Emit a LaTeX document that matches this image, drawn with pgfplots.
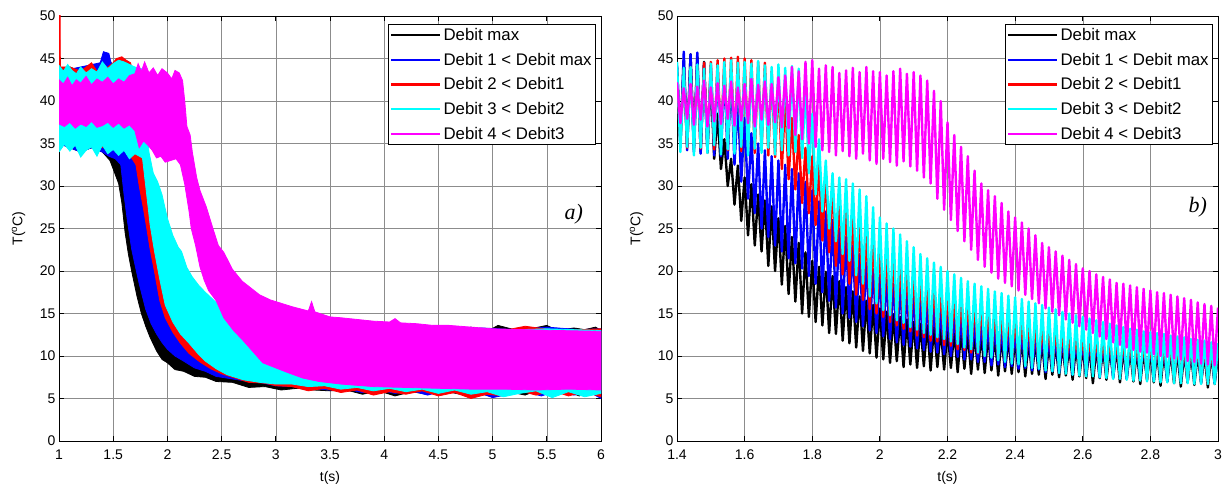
\documentclass[border=0pt]{standalone}
\usepackage{fontspec}
\setmainfont{Liberation Sans}
\newfontfamily\serifit{Liberation Serif}
\usepackage{pgfplots}
\pgfplotsset{compat=1.18}
\definecolor{mcyan}{rgb}{0,1,1}
\definecolor{mmag}{rgb}{1,0,1}
\definecolor{mblue}{rgb}{0,0,1}
\definecolor{mred}{rgb}{1,0,0}
\pgfplotsset{
  myaxis/.style={
    scale only axis, height=425bp,
    ymin=0, ymax=50, ytick={0,5,...,50},
    grid=major, major grid style={black!45, line width=0.5bp},
    axis line style={line width=0.8bp},
    tick align=inside, xtick pos=both, ytick pos=both,
    tick style={black, line width=0.8bp}, major tick length=5bp,
    tick label style={font=\fontsize{14bp}{16bp}\selectfont},
    xticklabel style={yshift=-5bp},
    /pgf/number format/assume math mode=true,
    xlabel={t(s)}, ylabel={T(\textsuperscript{o}C)},
    every axis y label/.style={at={(axis description cs:-0.0747,0.5)}, rotate=90, anchor=center, font=\fontsize{14bp}{16bp}\selectfont},
    every axis x label/.style={at={(axis description cs:0.5,-0.087)}, anchor=center, font=\fontsize{14bp}{16bp}\selectfont},
    legend style={at={(rel axis cs:1,1)}, anchor=north east, xshift=-5bp, yshift=-8bp,
      draw=black, line width=0.8bp, fill=white, font=\fontsize{16.8bp}{18bp}\selectfont,
      inner xsep=2bp, inner ysep=2bp, row sep=7bp, cells={anchor=west}},
    legend image code/.code={\draw[#1, line width=2.4bp, line cap=butt] (0bp,0bp) -- (49bp,0bp);},
  },
  wave/.style={line width=2.4bp, line join=round, forget plot},
  band/.style={fill=#1, draw=#1, line width=0.8bp, forget plot},
}
\begin{document}
\begin{tikzpicture}
\useasboundingbox (0,0) rectangle (1227bp,487bp);
% ---------------- panel a ----------------
\begin{axis}[myaxis, at={(59bp,46bp)}, anchor=south west, width=542bp,
  xmin=1, xmax=6, xtick={1,1.5,...,6}]
\addlegendimage{black}\addlegendentry{Debit max}
\addlegendimage{mblue}\addlegendentry{Debit 1 < Debit max}
\addlegendimage{mred}\addlegendentry{Debit 2 < Debit1}
\addlegendimage{mcyan}\addlegendentry{Debit 3 < Debit2}
\addlegendimage{mmag}\addlegendentry{Debit 4 < Debit3}
% black band
\addplot[band=black] table[row sep=\\]{
1.00 43.5\\ 1.10 44.0\\ 1.20 43.5\\ 1.30 44.0\\ 1.40 44.5\\ 1.45 45.3\\ 1.50 44.0\\ 1.52 38.0\\ 1.55 33.5\\ 1.60 31.0\\ 1.65 28.5\\ 1.70 26.0\\ 1.75 23.5\\ 1.80 21.0\\ 1.90 18.0\\ 2.00 15.5\\ 2.10 14.0\\ 2.20 13.0\\ 2.40 12.0\\ 2.60 11.5\\ 2.80 11.5\\ 3.00 11.8\\ 3.20 12.2\\ 3.50 12.6\\ 3.70 13.2\\ 3.75 12.8\\ 3.85 13.4\\ 3.95 12.9\\ 4.05 13.2\\ 4.20 12.9\\ 4.30 13.5\\ 4.40 12.9\\ 4.55 13.3\\ 4.70 13.0\\ 4.80 13.4\\ 4.95 12.9\\ 5.05 13.6\\ 5.20 13.1\\ 5.35 13.2\\ 5.50 13.6\\ 5.60 13.0\\ 5.75 13.3\\ 5.85 13.1\\ 5.95 13.4\\ 6.00 13.0\\
6.00 5.6\\ 5.90 5.9\\ 5.80 5.3\\ 5.70 5.8\\ 5.55 5.5\\ 5.40 5.9\\ 5.30 5.4\\ 5.15 5.8\\ 5.00 5.2\\ 4.85 5.7\\ 4.70 5.5\\ 4.55 5.9\\ 4.40 5.5\\ 4.25 5.8\\ 4.10 5.3\\ 3.95 5.9\\ 3.80 5.5\\ 3.65 6.0\\ 3.50 5.9\\ 3.35 6.0\\ 3.20 6.2\\ 3.05 6.0\\ 2.90 6.4\\ 2.75 6.3\\ 2.60 6.9\\ 2.45 7.0\\ 2.35 7.5\\ 2.25 7.6\\ 2.15 8.2\\ 2.07 8.4\\ 2.00 9.2\\ 1.95 9.6\\ 1.90 10.6\\ 1.84 12.2\\ 1.80 13.5\\ 1.76 15.0\\ 1.72 17.0\\ 1.67 20.0\\ 1.64 22.0\\ 1.61 24.5\\ 1.58 28.0\\ 1.55 30.3\\ 1.50 32.0\\ 1.47 33.0\\ 1.40 34.0\\ 1.30 34.5\\ 1.20 34.0\\ 1.10 34.5\\ 1.00 35.0\\
};
% blue band
\addplot[band=mblue] table[row sep=\\]{
1.00 43.5\\ 1.20 44.0\\ 1.38 44.5\\ 1.41 45.8\\ 1.46 45.6\\ 1.48 44.5\\ 1.55 43.5\\ 1.58 40.0\\ 1.62 36.0\\ 1.67 33.5\\ 1.72 32.5\\ 1.78 30.5\\ 1.84 27.0\\ 1.90 24.0\\ 1.95 21.5\\ 2.00 19.5\\ 2.10 17.0\\ 2.20 15.0\\ 2.40 12.8\\ 2.60 11.8\\ 2.80 11.2\\ 3.00 11.5\\ 3.50 12.5\\ 3.80 13.0\\ 4.00 12.9\\ 4.30 13.3\\ 4.60 13.0\\ 4.90 13.3\\ 5.20 13.1\\ 5.50 13.4\\ 5.80 13.1\\ 6.00 13.2\\
6.00 5.0\\ 5.90 5.7\\ 5.75 5.4\\ 5.60 5.9\\ 5.45 5.3\\ 5.30 5.8\\ 5.15 5.5\\ 5.00 5.1\\ 4.85 5.8\\ 4.70 5.6\\ 4.55 5.9\\ 4.40 5.4\\ 4.25 5.9\\ 4.10 5.6\\ 3.95 6.0\\ 3.80 5.7\\ 3.65 6.1\\ 3.50 6.0\\ 3.30 6.2\\ 3.15 6.4\\ 3.00 6.5\\ 2.85 6.9\\ 2.70 7.1\\ 2.55 7.4\\ 2.45 7.6\\ 2.35 8.2\\ 2.25 8.6\\ 2.15 9.4\\ 2.07 10.0\\ 2.00 10.8\\ 1.95 11.6\\ 1.90 12.6\\ 1.85 13.8\\ 1.80 15.5\\ 1.74 18.5\\ 1.70 20.8\\ 1.67 22.6\\ 1.63 26.0\\ 1.60 29.0\\ 1.57 32.5\\ 1.52 33.2\\ 1.46 33.5\\ 1.40 34.0\\ 1.30 34.5\\ 1.20 34.0\\ 1.10 34.5\\ 1.00 35.0\\
};
% red band
\addplot[band=mred] table[row sep=\\]{
1.000 44.0\\ 1.003 50.5\\ 1.010 50.5\\ 1.013 44.0\\ 1.10 44.0\\ 1.20 43.5\\ 1.30 44.5\\ 1.35 43.5\\ 1.45 44.0\\ 1.50 44.5\\ 1.53 45.0\\ 1.58 45.2\\ 1.62 44.8\\ 1.66 44.5\\ 1.70 42.5\\ 1.74 38.0\\ 1.78 34.5\\ 1.84 31.5\\ 1.90 28.0\\ 2.00 23.0\\ 2.10 20.0\\ 2.20 17.5\\ 2.30 16.0\\ 2.40 14.5\\ 2.60 12.5\\ 2.80 11.6\\ 3.00 11.8\\ 3.50 12.6\\ 4.00 12.9\\ 4.20 13.3\\ 4.50 13.0\\ 4.80 13.3\\ 5.10 13.0\\ 5.30 13.5\\ 5.60 13.0\\ 6.00 13.2\\
6.00 5.2\\ 5.85 5.8\\ 5.70 5.3\\ 5.55 5.9\\ 5.40 5.4\\ 5.25 5.9\\ 5.10 5.3\\ 4.95 5.5\\ 4.80 5.0\\ 4.65 5.7\\ 4.50 5.3\\ 4.35 5.9\\ 4.20 5.5\\ 4.05 5.8\\ 3.90 5.4\\ 3.75 6.0\\ 3.60 5.7\\ 3.45 6.2\\ 3.30 5.9\\ 3.15 6.4\\ 3.00 6.5\\ 2.90 6.8\\ 2.75 6.9\\ 2.60 7.5\\ 2.50 7.9\\ 2.40 8.5\\ 2.30 9.3\\ 2.20 10.3\\ 2.12 11.5\\ 2.05 12.8\\ 1.98 14.5\\ 1.93 16.5\\ 1.88 20.0\\ 1.84 22.6\\ 1.81 25.0\\ 1.78 27.3\\ 1.74 30.0\\ 1.71 32.5\\ 1.66 33.5\\ 1.60 34.2\\ 1.50 34.5\\ 1.40 34.5\\ 1.30 34.8\\ 1.20 34.5\\ 1.10 35.0\\ 1.00 35.0\\
};
% cyan band
\addplot[band=mcyan] table[row sep=\\]{
1.00 44.2\\ 1.04 43.5\\ 1.08 44.3\\ 1.12 43.6\\ 1.16 43.2\\ 1.20 44.0\\ 1.25 43.3\\ 1.30 43.8\\ 1.35 43.4\\ 1.40 44.6\\ 1.45 43.8\\ 1.50 44.4\\ 1.55 44.8\\ 1.60 44.6\\ 1.65 44.3\\ 1.70 44.0\\ 1.76 43.8\\ 1.79 40.0\\ 1.83 34.0\\ 1.87 31.5\\ 1.91 30.5\\ 1.95 29.0\\ 2.00 26.2\\ 2.05 24.2\\ 2.10 22.8\\ 2.13 22.3\\ 2.18 20.4\\ 2.23 19.3\\ 2.29 18.3\\ 2.35 17.5\\ 2.45 16.3\\ 2.55 15.1\\ 2.65 14.1\\ 2.75 13.1\\ 2.85 12.5\\ 3.00 12.0\\ 3.20 12.5\\ 3.50 12.8\\ 4.00 12.9\\ 4.50 13.2\\ 5.00 13.0\\ 5.50 13.2\\ 6.00 13.0\\
6.00 5.6\\ 5.85 5.2\\ 5.70 5.8\\ 5.55 5.1\\ 5.40 5.9\\ 5.25 5.6\\ 5.10 5.2\\ 4.95 5.8\\ 4.80 5.5\\ 4.65 6.0\\ 4.50 5.6\\ 4.35 6.1\\ 4.20 5.8\\ 4.05 6.2\\ 3.90 5.9\\ 3.75 6.3\\ 3.60 6.1\\ 3.45 6.5\\ 3.30 6.4\\ 3.15 6.7\\ 3.00 6.7\\ 2.85 6.9\\ 2.70 7.2\\ 2.55 7.8\\ 2.45 8.5\\ 2.35 9.4\\ 2.28 10.3\\ 2.20 11.5\\ 2.12 12.6\\ 2.05 14.0\\ 1.98 16.0\\ 1.93 19.0\\ 1.88 22.4\\ 1.84 25.5\\ 1.80 30.0\\ 1.77 33.3\\ 1.70 33.8\\ 1.65 33.2\\ 1.60 34.2\\ 1.55 33.6\\ 1.50 34.3\\ 1.45 33.8\\ 1.40 34.8\\ 1.35 33.5\\ 1.30 34.6\\ 1.25 34.2\\ 1.20 33.4\\ 1.15 34.8\\ 1.10 34.1\\ 1.05 34.9\\ 1.00 34.0\\
};
% magenta band
\addplot[band=mmag] table[row sep=\\]{
1.00 42.5\\ 1.04 42.0\\ 1.08 42.8\\ 1.12 41.8\\ 1.16 42.5\\ 1.20 42.1\\ 1.25 42.9\\ 1.30 41.9\\ 1.35 42.6\\ 1.40 42.2\\ 1.45 42.8\\ 1.50 42.0\\ 1.55 42.6\\ 1.60 42.2\\ 1.65 43.0\\ 1.70 43.2\\ 1.73 44.4\\ 1.76 43.5\\ 1.79 44.6\\ 1.83 43.3\\ 1.87 43.9\\ 1.91 43.0\\ 1.95 43.8\\ 2.00 43.3\\ 2.04 42.6\\ 2.07 43.6\\ 2.11 43.3\\ 2.14 42.4\\ 2.16 40.0\\ 2.18 37.0\\ 2.21 36.0\\ 2.23 34.0\\ 2.27 31.0\\ 2.30 29.5\\ 2.36 27.5\\ 2.42 25.0\\ 2.47 23.0\\ 2.52 22.2\\ 2.60 20.2\\ 2.69 18.8\\ 2.78 17.9\\ 2.85 17.2\\ 2.95 16.6\\ 3.05 16.2\\ 3.15 15.8\\ 3.30 15.3\\ 3.33 16.4\\ 3.36 15.2\\ 3.50 14.6\\ 3.60 14.5\\ 3.75 14.3\\ 3.90 14.1\\ 4.05 14.0\\ 4.10 14.4\\ 4.15 13.9\\ 4.30 13.8\\ 4.45 13.6\\ 4.60 13.6\\ 4.80 13.4\\ 5.00 13.2\\ 5.30 13.1\\ 5.60 13.0\\ 6.00 12.9\\
6.00 6.0\\ 5.70 6.1\\ 5.40 6.0\\ 5.10 6.1\\ 4.80 6.1\\ 4.50 6.2\\ 4.20 6.3\\ 3.90 6.4\\ 3.60 6.7\\ 3.40 7.0\\ 3.25 7.4\\ 3.10 8.1\\ 3.00 8.6\\ 2.88 9.2\\ 2.79 10.5\\ 2.70 11.8\\ 2.61 13.0\\ 2.52 14.5\\ 2.45 16.5\\ 2.38 17.7\\ 2.34 18.9\\ 2.30 20.5\\ 2.26 23.0\\ 2.22 25.0\\ 2.20 27.0\\ 2.16 30.2\\ 2.12 32.5\\ 2.08 33.2\\ 2.03 33.0\\ 1.98 32.8\\ 1.94 33.5\\ 1.90 33.3\\ 1.86 34.2\\ 1.82 34.8\\ 1.78 35.3\\ 1.74 34.5\\ 1.70 36.5\\ 1.65 37.2\\ 1.60 36.8\\ 1.55 37.4\\ 1.50 36.9\\ 1.45 37.5\\ 1.40 37.1\\ 1.35 36.9\\ 1.30 37.6\\ 1.25 37.0\\ 1.20 37.3\\ 1.15 36.8\\ 1.10 37.5\\ 1.05 37.0\\ 1.00 37.3\\
};
\node[font=\serifit\itshape\fontsize{22bp}{24bp}\selectfont] at (axis cs:5.75,26.7) {a)};
\end{axis}
% ---------------- panel b ----------------
\begin{axis}[myaxis, at={(677bp,46bp)}, anchor=south west, width=541bp,
  xmin=1.4, xmax=3, xtick={1.4,1.6,...,3.01}]
\addlegendimage{black}\addlegendentry{Debit max}
\addlegendimage{mblue}\addlegendentry{Debit 1 < Debit max}
\addlegendimage{mred}\addlegendentry{Debit 2 < Debit1}
\addlegendimage{mcyan}\addlegendentry{Debit 3 < Debit2}
\addlegendimage{mmag}\addlegendentry{Debit 4 < Debit3}
% black
\addplot[wave, black] table[row sep=\\]{
1.40 44.0\\ 1.41 35.2\\ 1.42 44.8\\ 1.43 34.6\\ 1.44 45.5\\ 1.45 34.3\\ 1.46 45.2\\ 1.47 34.0\\ 1.48 44.6\\ 1.49 33.9\\
1.50 43.0\\ 1.51 33.2\\ 1.52 38.5\\ 1.53 32.0\\ 1.54 35.5\\ 1.55 30.0\\ 1.56 33.2\\ 1.57 27.8\\ 1.58 32.4\\ 1.59 25.9\\
1.60 31.0\\ 1.61 24.2\\ 1.62 30.2\\ 1.63 23.0\\ 1.64 29.0\\ 1.65 22.3\\ 1.66 28.3\\ 1.67 20.6\\ 1.68 27.6\\ 1.69 20.0\\
1.70 26.2\\ 1.71 18.4\\ 1.72 25.3\\ 1.73 17.3\\ 1.74 24.0\\ 1.75 16.4\\ 1.76 23.3\\ 1.77 15.0\\ 1.78 22.2\\ 1.79 14.6\\
1.80 21.2\\ 1.81 14.0\\ 1.82 20.5\\ 1.83 13.6\\ 1.84 19.9\\ 1.85 12.7\\ 1.86 19.4\\ 1.87 12.6\\ 1.88 18.8\\ 1.89 11.8\\
1.90 18.1\\ 1.91 11.5\\ 1.92 17.6\\ 1.93 11.0\\ 1.94 17.0\\ 1.95 10.6\\ 1.96 16.5\\ 1.97 10.3\\ 1.98 16.0\\ 1.99 9.8\\
2.00 15.6\\ 2.01 9.6\\ 2.02 15.2\\ 2.03 9.2\\ 2.04 14.9\\ 2.05 9.4\\ 2.06 14.6\\ 2.07 8.7\\ 2.08 14.3\\ 2.09 9.0\\
2.10 14.0\\ 2.11 8.6\\ 2.12 13.8\\ 2.13 8.8\\ 2.14 13.6\\ 2.15 8.3\\ 2.16 13.4\\ 2.17 8.7\\ 2.18 13.2\\ 2.19 8.4\\
2.20 13.0\\ 2.21 8.6\\ 2.22 12.9\\ 2.23 8.1\\ 2.24 12.8\\ 2.25 8.5\\ 2.26 12.7\\ 2.27 7.9\\ 2.28 12.6\\ 2.29 8.4\\
2.30 12.5\\ 2.31 8.0\\ 2.32 12.4\\ 2.33 8.3\\ 2.34 12.3\\ 2.35 7.7\\ 2.36 12.2\\ 2.37 8.2\\ 2.38 12.1\\ 2.39 7.9\\
2.40 12.0\\ 2.41 8.1\\ 2.42 11.9\\ 2.43 7.6\\ 2.44 11.8\\ 2.45 7.9\\ 2.46 11.7\\ 2.47 7.8\\ 2.48 11.6\\ 2.49 7.3\\
2.50 11.5\\ 2.51 7.8\\ 2.52 11.4\\ 2.53 7.5\\ 2.54 11.3\\ 2.55 7.7\\ 2.56 11.2\\ 2.57 7.2\\ 2.58 11.1\\ 2.59 7.6\\
2.60 11.0\\ 2.61 7.4\\ 2.62 11.0\\ 2.63 6.8\\ 2.64 10.9\\ 2.65 7.4\\ 2.66 10.9\\ 2.67 7.2\\ 2.68 10.8\\ 2.69 7.5\\
2.70 10.8\\ 2.71 6.9\\ 2.72 10.7\\ 2.73 7.3\\ 2.74 10.7\\ 2.75 7.0\\ 2.76 10.6\\ 2.77 6.7\\ 2.78 10.6\\ 2.79 7.2\\
2.80 10.5\\ 2.81 6.9\\ 2.82 10.5\\ 2.83 6.5\\ 2.84 10.4\\ 2.85 7.0\\ 2.86 10.4\\ 2.87 6.8\\ 2.88 10.4\\ 2.89 6.4\\
2.90 10.3\\ 2.91 6.9\\ 2.92 10.3\\ 2.93 6.6\\ 2.94 10.3\\ 2.95 6.8\\ 2.96 10.2\\ 2.97 6.3\\ 2.98 10.2\\ 2.99 6.7\\ 3.00 10.2\\
};
% blue
\addplot[wave, mblue] table[row sep=\\]{
1.40 44.2\\ 1.41 34.6\\ 1.42 45.8\\ 1.43 34.2\\ 1.44 45.5\\ 1.45 34.0\\ 1.46 45.7\\ 1.47 33.8\\ 1.48 44.5\\ 1.49 34.1\\
1.50 44.2\\ 1.51 33.6\\ 1.52 44.0\\ 1.53 33.5\\ 1.54 43.6\\ 1.55 33.2\\ 1.56 43.0\\ 1.57 32.5\\ 1.58 40.0\\ 1.59 30.5\\
1.60 38.0\\ 1.61 28.5\\ 1.62 36.2\\ 1.63 26.8\\ 1.64 35.0\\ 1.65 25.0\\ 1.66 34.2\\ 1.67 24.0\\ 1.68 33.5\\ 1.69 23.0\\
1.70 33.0\\ 1.71 22.3\\ 1.72 32.5\\ 1.73 21.5\\ 1.74 32.0\\ 1.75 20.9\\ 1.76 31.5\\ 1.77 20.3\\ 1.78 30.5\\ 1.79 19.4\\
1.80 29.5\\ 1.81 18.5\\ 1.82 28.2\\ 1.83 17.5\\ 1.84 27.0\\ 1.85 16.5\\ 1.86 26.0\\ 1.87 15.7\\ 1.88 25.0\\ 1.89 15.0\\
1.90 24.0\\ 1.91 14.5\\ 1.92 23.0\\ 1.93 14.0\\ 1.94 22.0\\ 1.95 13.5\\ 1.96 21.0\\ 1.97 13.0\\ 1.98 20.2\\ 1.99 12.7\\
2.00 19.5\\ 2.01 12.3\\ 2.02 19.0\\ 2.03 12.0\\ 2.04 18.5\\ 2.05 11.6\\ 2.06 18.0\\ 2.07 11.3\\ 2.08 17.5\\ 2.09 11.1\\
2.10 17.0\\ 2.11 10.9\\ 2.12 16.6\\ 2.13 10.7\\ 2.14 16.2\\ 2.15 10.5\\ 2.16 15.8\\ 2.17 10.4\\ 2.18 15.4\\ 2.19 10.2\\
2.20 15.0\\ 2.21 10.0\\ 2.22 14.8\\ 2.23 9.9\\ 2.24 14.5\\ 2.25 9.6\\ 2.26 14.3\\ 2.27 9.6\\ 2.28 14.0\\ 2.29 9.3\\
2.30 13.8\\ 2.31 9.3\\ 2.32 13.6\\ 2.33 8.9\\ 2.34 13.4\\ 2.35 9.0\\ 2.36 13.2\\ 2.37 8.7\\ 2.38 13.0\\ 2.39 8.8\\
2.40 12.8\\ 2.41 8.5\\ 2.42 12.7\\ 2.43 8.6\\ 2.44 12.6\\ 2.45 8.3\\ 2.46 12.5\\ 2.47 8.4\\ 2.48 12.4\\ 2.49 8.1\\
2.50 12.3\\ 2.51 8.2\\ 2.52 12.2\\ 2.53 8.0\\ 2.54 12.1\\ 2.55 8.1\\ 2.56 12.0\\ 2.57 7.8\\ 2.58 11.9\\ 2.59 8.0\\
2.60 11.8\\ 2.61 7.7\\ 2.62 11.7\\ 2.63 7.9\\ 2.64 11.7\\ 2.65 7.5\\ 2.66 11.6\\ 2.67 7.8\\ 2.68 11.5\\ 2.69 7.4\\
2.70 11.5\\ 2.71 7.7\\ 2.72 11.4\\ 2.73 7.3\\ 2.74 11.4\\ 2.75 7.6\\ 2.76 11.3\\ 2.77 7.3\\ 2.78 11.3\\ 2.79 7.5\\
2.80 11.2\\ 2.81 7.2\\ 2.82 11.2\\ 2.83 7.4\\ 2.84 11.1\\ 2.85 7.0\\ 2.86 11.1\\ 2.87 7.3\\ 2.88 11.0\\ 2.89 7.1\\
2.90 11.0\\ 2.91 6.9\\ 2.92 10.9\\ 2.93 7.2\\ 2.94 10.9\\ 2.95 6.9\\ 2.96 10.8\\ 2.97 7.1\\ 2.98 10.8\\ 2.99 6.8\\ 3.00 10.7\\
};
% red
\addplot[wave, mred] table[row sep=\\]{
1.40 43.5\\ 1.41 34.8\\ 1.42 43.8\\ 1.43 34.5\\ 1.44 44.0\\ 1.45 35.0\\ 1.46 44.2\\ 1.47 34.4\\ 1.48 44.5\\ 1.49 34.7\\
1.50 44.6\\ 1.51 34.3\\ 1.52 44.8\\ 1.53 34.6\\ 1.54 45.0\\ 1.55 34.2\\ 1.56 45.1\\ 1.57 34.5\\ 1.58 45.2\\ 1.59 34.1\\
1.60 45.0\\ 1.61 34.4\\ 1.62 44.8\\ 1.63 33.9\\ 1.64 44.6\\ 1.65 34.2\\ 1.66 44.5\\ 1.67 33.6\\ 1.68 43.5\\ 1.69 33.4\\
1.70 42.5\\ 1.71 32.0\\ 1.72 40.5\\ 1.73 30.8\\ 1.74 38.0\\ 1.75 29.6\\ 1.76 36.0\\ 1.77 28.0\\ 1.78 34.5\\ 1.79 26.8\\
1.80 33.5\\ 1.81 25.4\\ 1.82 32.5\\ 1.83 23.6\\ 1.84 31.5\\ 1.85 22.2\\ 1.86 30.3\\ 1.87 20.6\\ 1.88 29.0\\ 1.89 19.6\\
1.90 28.0\\ 1.91 18.5\\ 1.92 27.0\\ 1.93 17.2\\ 1.94 26.0\\ 1.95 16.6\\ 1.96 25.0\\ 1.97 15.5\\ 1.98 24.0\\ 1.99 15.0\\
2.00 23.0\\ 2.01 14.6\\ 2.02 22.4\\ 2.03 14.0\\ 2.04 21.8\\ 2.05 13.6\\ 2.06 21.2\\ 2.07 13.2\\ 2.08 20.6\\ 2.09 12.9\\
2.10 20.0\\ 2.11 12.4\\ 2.12 19.5\\ 2.13 12.2\\ 2.14 19.0\\ 2.15 11.8\\ 2.16 18.5\\ 2.17 11.7\\ 2.18 18.0\\ 2.19 11.3\\
2.20 17.5\\ 2.21 11.2\\ 2.22 17.2\\ 2.23 10.8\\ 2.24 16.9\\ 2.25 10.7\\ 2.26 16.6\\ 2.27 10.4\\ 2.28 16.3\\ 2.29 10.3\\
2.30 16.0\\ 2.31 10.0\\ 2.32 15.7\\ 2.33 9.9\\ 2.34 15.4\\ 2.35 9.6\\ 2.36 15.1\\ 2.37 9.6\\ 2.38 14.8\\ 2.39 9.3\\
2.40 14.5\\ 2.41 9.3\\ 2.42 14.3\\ 2.43 9.0\\ 2.44 14.1\\ 2.45 9.0\\ 2.46 13.9\\ 2.47 8.7\\ 2.48 13.7\\ 2.49 8.8\\
2.50 13.5\\ 2.51 8.5\\ 2.52 13.3\\ 2.53 8.6\\ 2.54 13.1\\ 2.55 8.3\\ 2.56 12.9\\ 2.57 8.4\\ 2.58 12.7\\ 2.59 8.1\\
2.60 12.5\\ 2.61 8.2\\ 2.62 12.4\\ 2.63 7.9\\ 2.64 12.3\\ 2.65 8.0\\ 2.66 12.2\\ 2.67 7.7\\ 2.68 12.1\\ 2.69 7.9\\
2.70 12.0\\ 2.71 7.6\\ 2.72 11.9\\ 2.73 7.8\\ 2.74 11.8\\ 2.75 7.4\\ 2.76 11.7\\ 2.77 7.7\\ 2.78 11.6\\ 2.79 7.3\\
2.80 11.5\\ 2.81 7.6\\ 2.82 11.5\\ 2.83 7.2\\ 2.84 11.4\\ 2.85 7.5\\ 2.86 11.3\\ 2.87 7.1\\ 2.88 11.3\\ 2.89 7.4\\
2.90 11.2\\ 2.91 6.9\\ 2.92 11.2\\ 2.93 7.3\\ 2.94 11.1\\ 2.95 7.0\\ 2.96 11.1\\ 2.97 6.7\\ 2.98 11.0\\ 2.99 7.1\\ 3.00 11.0\\
};
% cyan
\addplot[wave, mcyan] table[row sep=\\]{
1.40 44.6\\ 1.41 34.0\\ 1.42 43.9\\ 1.43 34.6\\ 1.44 44.0\\ 1.45 33.6\\ 1.46 44.3\\ 1.47 34.5\\ 1.48 43.8\\ 1.49 33.9\\
1.50 44.4\\ 1.51 34.8\\ 1.52 44.2\\ 1.53 33.7\\ 1.54 44.6\\ 1.55 34.3\\ 1.56 44.8\\ 1.57 33.8\\ 1.58 44.5\\ 1.59 34.6\\
1.60 44.6\\ 1.61 33.6\\ 1.62 44.4\\ 1.63 34.4\\ 1.64 44.7\\ 1.65 33.9\\ 1.66 44.2\\ 1.67 34.5\\ 1.68 44.0\\ 1.69 33.7\\
1.70 44.3\\ 1.71 34.2\\ 1.72 43.9\\ 1.73 33.6\\ 1.74 44.1\\ 1.75 34.0\\ 1.76 43.8\\ 1.77 33.3\\ 1.78 41.5\\ 1.79 31.5\\
1.80 38.5\\ 1.81 29.0\\ 1.82 35.5\\ 1.83 27.0\\ 1.84 33.0\\ 1.85 25.0\\ 1.86 31.5\\ 1.87 23.5\\ 1.88 31.0\\ 1.89 22.0\\
1.90 30.8\\ 1.91 21.2\\ 1.92 30.3\\ 1.93 19.5\\ 1.94 29.6\\ 1.95 18.5\\ 1.96 28.8\\ 1.97 17.0\\ 1.98 27.5\\ 1.99 16.2\\
2.00 26.3\\ 2.01 15.4\\ 2.02 25.6\\ 2.03 14.8\\ 2.04 25.0\\ 2.05 14.2\\ 2.06 24.3\\ 2.07 13.9\\ 2.08 23.5\\ 2.09 13.4\\
2.10 22.8\\ 2.11 13.1\\ 2.12 22.0\\ 2.13 12.7\\ 2.14 21.5\\ 2.15 12.5\\ 2.16 21.0\\ 2.17 12.2\\ 2.18 20.5\\ 2.19 12.0\\
2.20 20.0\\ 2.21 11.7\\ 2.22 19.6\\ 2.23 11.4\\ 2.24 19.2\\ 2.25 11.0\\ 2.26 18.8\\ 2.27 10.8\\ 2.28 18.5\\ 2.29 10.4\\
2.30 18.2\\ 2.31 10.0\\ 2.32 17.9\\ 2.33 9.8\\ 2.34 17.6\\ 2.35 9.5\\ 2.36 17.4\\ 2.37 9.3\\ 2.38 17.1\\ 2.39 9.1\\
2.40 16.9\\ 2.41 9.0\\ 2.42 16.7\\ 2.43 8.8\\ 2.44 16.4\\ 2.45 8.6\\ 2.46 16.2\\ 2.47 8.5\\ 2.48 16.0\\ 2.49 8.3\\
2.50 15.7\\ 2.51 8.2\\ 2.52 15.5\\ 2.53 8.0\\ 2.54 15.2\\ 2.55 7.9\\ 2.56 15.0\\ 2.57 7.8\\ 2.58 14.8\\ 2.59 7.7\\
2.60 14.6\\ 2.61 7.6\\ 2.62 14.4\\ 2.63 7.6\\ 2.64 14.2\\ 2.65 7.5\\ 2.66 14.0\\ 2.67 7.4\\ 2.68 13.8\\ 2.69 7.3\\
2.70 13.6\\ 2.71 7.3\\ 2.72 13.4\\ 2.73 7.2\\ 2.74 13.2\\ 2.75 7.1\\ 2.76 13.1\\ 2.77 7.1\\ 2.78 12.9\\ 2.79 7.0\\
2.80 12.8\\ 2.81 7.0\\ 2.82 12.7\\ 2.83 6.9\\ 2.84 12.6\\ 2.85 6.9\\ 2.86 12.4\\ 2.87 6.8\\ 2.88 12.3\\ 2.89 6.8\\
2.90 12.2\\ 2.91 6.8\\ 2.92 12.0\\ 2.93 6.7\\ 2.94 11.9\\ 2.95 6.7\\ 2.96 11.8\\ 2.97 6.7\\ 2.98 11.6\\ 2.99 6.7\\ 3.00 11.5\\
};
% magenta
\addplot[wave, mmag] table[row sep=\\]{
1.40 42.2\\ 1.41 37.4\\ 1.42 41.5\\ 1.43 37.9\\ 1.44 42.0\\ 1.45 37.2\\ 1.46 41.7\\ 1.47 37.8\\ 1.48 42.4\\ 1.49 37.0\\
1.50 41.6\\ 1.51 37.6\\ 1.52 42.1\\ 1.53 37.3\\ 1.54 41.8\\ 1.55 37.9\\ 1.56 42.3\\ 1.57 37.1\\ 1.58 41.6\\ 1.59 37.7\\
1.60 42.0\\ 1.61 37.4\\ 1.62 42.6\\ 1.63 37.0\\ 1.64 41.9\\ 1.65 37.8\\ 1.66 42.3\\ 1.67 37.2\\ 1.68 42.0\\ 1.69 37.5\\
1.70 42.8\\ 1.71 36.9\\ 1.72 43.0\\ 1.73 36.8\\ 1.74 44.0\\ 1.75 36.0\\ 1.76 43.5\\ 1.77 35.5\\ 1.78 44.6\\ 1.79 35.0\\
1.80 44.8\\ 1.81 34.6\\ 1.82 43.8\\ 1.83 34.2\\ 1.84 44.2\\ 1.85 34.0\\ 1.86 44.0\\ 1.87 33.6\\ 1.88 43.3\\ 1.89 34.1\\
1.90 43.6\\ 1.91 33.5\\ 1.92 43.9\\ 1.93 33.2\\ 1.94 43.4\\ 1.95 33.8\\ 1.96 44.0\\ 1.97 33.0\\ 1.98 43.5\\ 1.99 32.6\\
2.00 43.4\\ 2.01 33.2\\ 2.02 43.0\\ 2.03 32.8\\ 2.04 43.5\\ 2.05 32.4\\ 2.06 43.8\\ 2.07 32.9\\ 2.08 43.2\\ 2.09 32.3\\
2.10 43.4\\ 2.11 31.8\\ 2.12 43.0\\ 2.13 31.0\\ 2.14 42.4\\ 2.15 30.3\\ 2.16 41.2\\ 2.17 28.5\\ 2.18 40.0\\ 2.19 27.2\\
2.20 37.5\\ 2.21 26.0\\ 2.22 36.0\\ 2.23 24.7\\ 2.24 34.6\\ 2.25 23.5\\ 2.26 33.5\\ 2.27 22.5\\ 2.28 31.8\\ 2.29 21.3\\
2.30 30.3\\ 2.31 20.5\\ 2.32 29.5\\ 2.33 19.8\\ 2.34 28.8\\ 2.35 19.1\\ 2.36 28.0\\ 2.37 18.6\\ 2.38 27.0\\ 2.39 18.2\\
2.40 26.3\\ 2.41 17.7\\ 2.42 25.7\\ 2.43 17.2\\ 2.44 25.0\\ 2.45 16.7\\ 2.46 24.2\\ 2.47 16.2\\ 2.48 23.3\\ 2.49 15.6\\
2.50 22.8\\ 2.51 15.2\\ 2.52 22.3\\ 2.53 14.8\\ 2.54 21.8\\ 2.55 14.3\\ 2.56 21.3\\ 2.57 13.9\\ 2.58 20.8\\ 2.59 13.5\\
2.60 20.3\\ 2.61 13.1\\ 2.62 20.0\\ 2.63 12.7\\ 2.64 19.6\\ 2.65 12.3\\ 2.66 19.3\\ 2.67 12.0\\ 2.68 19.0\\ 2.69 11.6\\
2.70 18.6\\ 2.71 11.3\\ 2.72 18.5\\ 2.73 11.0\\ 2.74 18.3\\ 2.75 10.7\\ 2.76 18.1\\ 2.77 10.5\\ 2.78 17.9\\ 2.79 10.4\\
2.80 17.7\\ 2.81 10.2\\ 2.82 17.5\\ 2.83 10.0\\ 2.84 17.4\\ 2.85 9.9\\ 2.86 17.2\\ 2.87 9.7\\ 2.88 17.0\\ 2.89 9.6\\
2.90 16.8\\ 2.91 9.4\\ 2.92 16.6\\ 2.93 9.3\\ 2.94 16.3\\ 2.95 9.1\\ 2.96 16.1\\ 2.97 9.0\\ 2.98 15.9\\ 2.99 8.9\\ 3.00 15.7\\
};
\node[font=\serifit\itshape\fontsize{22bp}{24bp}\selectfont] at (axis cs:2.94,27.5) {b)};
\end{axis}
\end{tikzpicture}
\end{document}
